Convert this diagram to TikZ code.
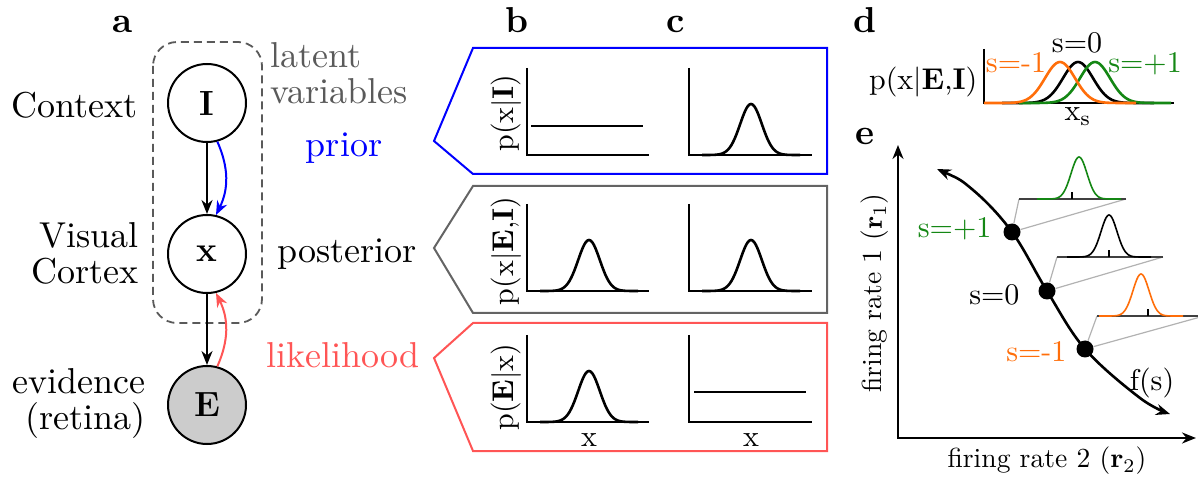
\documentclass[tikz,border=0pt]{standalone}
\usepackage{tikz}
\usetikzlibrary{arrows.meta, positioning, calc}
\definecolor{priorblue}{RGB}{0, 0, 255}
\definecolor{likered}{RGB}{255, 85, 85}
\definecolor{latentgray}{RGB}{90, 90, 90}
\definecolor{postgray}{RGB}{100, 100, 100}
\definecolor{evgray}{RGB}{204, 204, 204}
\definecolor{sminus}{RGB}{255, 110, 10}
\definecolor{splus}{RGB}{20, 135, 20}

\begin{document}
\begin{tikzpicture}[
    x=0.5pt, y=-0.5pt,
    >={Stealth[length=7pt, width=5.5pt]},
    big/.style={font=\fontsize{10}{10}\selectfont, scale=1.8, inner sep=0pt},
    small/.style={font=\fontsize{10}{12}\selectfont, scale=1.5, inner sep=0pt},
    axlabel/.style={font=\fontsize{10}{12}\selectfont, scale=1.38, inner sep=0pt},
    panel/.style={font=\fontsize{10}{10}\selectfont\bfseries, scale=1.8, inner sep=0pt, anchor=base},
    var/.style={draw, circle, line width=1pt, minimum size=39pt, inner sep=0pt, font=\fontsize{17.5}{18}\selectfont},
    arrow/.style={->, line width=1pt},
    axis/.style={line width=1.3pt},
    density/.style={line width=1.3pt},
    tuning/.style={line width=0.8pt},
    proj/.style={draw=gray!60, line width=0.6pt},
    dot/.style={circle, fill, inner sep=0pt, minimum size=8.5pt}
]
\useasboundingbox (0,0) rectangle (1198,480);

% Graphical model
\node[panel] at (123,33) {a};
\draw[latentgray, dash pattern=on 4pt off 2.5pt, line width=0.9pt, rounded corners=12pt] (153,42) rectangle (262,323);
\node[var] (I) at (207,103) {\textbf{I}};
\node[var] (x) at (207,254) {\textbf{x}};
\node[var, fill=evgray] (E) at (207,405) {\textbf{E}};
\draw[arrow] (I) -- (x);
\draw[arrow] (x) -- (E);
\draw[arrow, priorblue] (I.-75) to[bend left=25] (x.77);
\draw[arrow, likered] (E.75) to[bend right=25] (x.-77);

\node[big, anchor=east] (ctx) at (138,105) {Context};
\node[big, anchor=east, align=right] (vis) at (139,253) {Visual\\Cortex};
\node[big, anchor=east, align=right] (evid) at (146,404) {evidence\\(retina)};
\node[big, anchor=west, align=left, latentgray] (lat) at (270,73) {latent\\variables};

% Prior / posterior / likelihood
\node[big, anchor=base, priorblue] (prior) at (344,157) {prior};
\node[big, anchor=base] (post) at (347,263) {posterior};
\node[big, anchor=base, likered] (like) at (343,367) {likelihood};

\node[panel] at (517,33) {b};
\node[panel] at (676,33) {c};
\draw[priorblue, line width=1pt] (434,141) -- (473,48) -- (827,48) -- (827,174) -- (473,174) -- cycle;
\draw[postgray, line width=1pt] (434,248) -- (473,186) -- (827,186) -- (827,313) -- (473,313) -- cycle;
\draw[likered, line width=1pt] (434,358) -- (473,323) -- (827,323) -- (827,451) -- (473,451) -- cycle;

\foreach \by in {155,291,422} {
  \draw[axis] (527,\by-87) -- (527,\by) -- (649,\by);
  \draw[axis] (689,\by-87) -- (689,\by) -- (812,\by);
}
\draw[density] (531,126) -- (643,126);
\draw[density] (694,392) -- (806,392);
\foreach \cx/\by in {589/291, 589/422, 751/155, 751/291}
  \draw[density] plot[domain=\cx-49:\cx+49, samples=61] (\x, {\by-51*exp((\x-\cx)*(\x-\cx)/(-235))});

\node[small, rotate=90] (yb1) at (506,113) {p(x$|$\textbf{I})};
\node[small, rotate=90] (yb2) at (506,251) {p(x$|$\textbf{E},\textbf{I})};
\node[small, rotate=90] (yb3) at (506,387) {p(\textbf{E}$|$x)};
\node[small] (xb) at (589,440) {x};
\node[small] (xc) at (751,440) {x};

% Posterior for different s
\node[panel] at (865,33) {d};
\draw[axis] (984,49) -- (984,103) -- (1174,103);
\foreach \cx/\col in {1078/black, 1095/splus, 1060/sminus}
  \draw[density, \col] plot[domain=\cx-76:\cx+76, samples=81] (\x, {103-41*exp((\x-\cx)*(\x-\cx)/(-450))});
\node[small, anchor=base] at (1077,53) {s=0};
\node[small, anchor=base, sminus] at (1016,73) {s=-1};
\node[small, anchor=base, splus] at (1145,73) {s=+1};
\node[small, anchor=base east] at (978,90) {p(x$|$\textbf{E},\textbf{I})};
\node[small, anchor=base] at (1078,121) {x$_\mathrm{s}$};

% Firing rate space
\node[panel] at (865,145) {e};
\draw[axis, <->] (898,145) -- (898,438) -- (1196,438);
\node[dot] (sp) at (1012,232) {};
\node[dot] (sz) at (1047,291) {};
\node[dot] (sm) at (1085,349) {};
\draw[density, <->] plot[smooth, tension=0.6] coordinates {(937,169) (973,190) (sp.center) (sz.center) (sm.center) (1140,398) (1170,414)};

\foreach \d/\by/\xl/\xr/\cx/\tx/\col in {sp/199/1019/1126/1079/1072/splus, sz/257/1057/1163/1109/1109/black, sm/316/1097/1204/1141/1148/sminus} {
  \coordinate (\d-l) at (\xl,\by);
  \coordinate (\d-r) at (\xr,\by);
  \draw[proj] (\d) -- (\d-l);
  \draw[proj] (\d) -- (\d-r);
  \draw[darkgray, line width=0.8pt] (\d-l) -- (\d-r);
  \draw[tuning, \col] plot[domain=\cx-42:\cx+42, samples=61] (\x, {\by-42*exp((\x-\cx)*(\x-\cx)/(-128))});
  \draw[line width=0.6pt] (\tx,\by) -- (\tx,\by-7);
}

\node[small, anchor=base east, splus] at (992,238) {s=+1};
\node[small, anchor=base east] at (1020,305) {s=0};
\node[small, anchor=base east, sminus] at (1067,362) {s=-1};
\node[small, anchor=base] at (1152,390) {f(s)};
\node[axlabel, rotate=90] (ye) at (875,293) {firing rate 1 ($\mathbf{r}_1$)};
\node[axlabel] (xe) at (1047,461) {firing rate 2 ($\mathbf{r}_2$)};

\end{tikzpicture}
\end{document}
